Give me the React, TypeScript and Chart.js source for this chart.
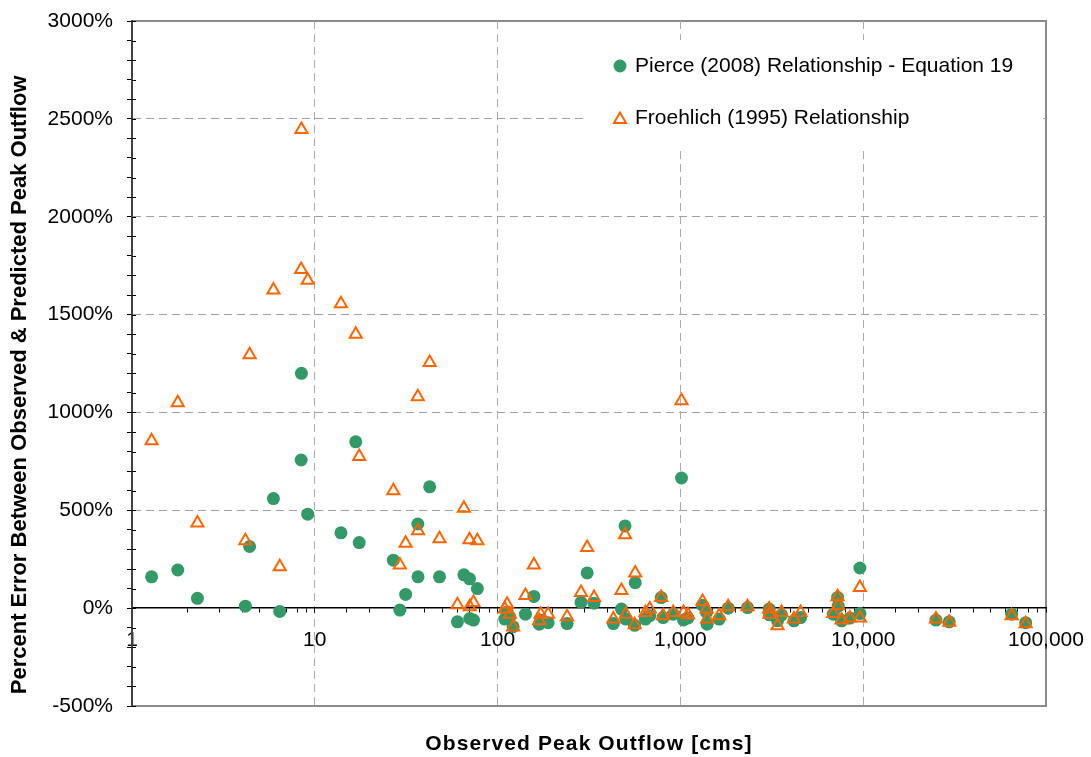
import React, { useEffect, useRef } from "react";
import { Chart, registerables } from "chart.js";

Chart.register(...registerables);

// Observed peak outflow [cms]
const obsFlow = [
  1.28, 1.78, 2.28, 4.17, 4.4, 5.94, 6.43, 8.45, 8.42, 9.15,
  13.9, 16.75, 17.5, 26.9, 29.2, 31.4, 36.6, 36.7, 42.5, 48.1,
  60.3, 65.4, 70.2, 70.4, 73.8, 77.5, 109.5, 112.7, 116.6, 121.6,
  142, 158, 169, 172, 189, 240, 286, 309, 337, 430,
  476, 498, 503, 566, 562, 644, 680, 785, 804, 913,
  1014, 1040, 1100, 1322, 1390, 1400, 1630, 1825, 2330, 3060,
  3070, 3400, 3577, 4180, 4545, 6855, 7244, 7300, 7620, 8455,
  9590, 9600, 25000, 29550, 64900, 77400,
];

// Percent error, Pierce (2008) relationship - Equation 19
const pierceErr = [
  160, 195, 50, 10, 315, 560, -17, 1200, 757, 480,
  385, 850, 335, 245, -10, 70, 430, 160, 620, 160,
  -70, 170, 150, -53, -61, 100, -56, -20, -45, -95,
  -31, 60, -82, -60, -74, -79, 29, 180, 25, -79,
  -5, 420, -56, 130, -88, -56, -39, 54, -48, -31,
  665, -60, -50, 15, -22, -82, -56, 0, 3, -5,
  -34, -65, -34, -65, -48, -31, 55, 10, -65, -51,
  205, -28, -61, -70, -31, -74,
];

// Percent error, Froehlich (1995) relationship
const froehlichErr = [
  855, 1050, 435, 344, 1295, 1625, 211, 2445, 1730, 1675,
  1555, 1400, 775, 600, 220, 332, 1080, 395, 1255, 355,
  17, 510, 350, 7, 29, 344, -5, 20, -31, -96,
  65, 220, -65, -31, -31, -44, 80, 310, 55, -56,
  90, 375, -31, 180, -85, -22, -5, 55, -39, -22,
  1060, -22, -34, 34, -5, -56, -39, 7, 7, -5,
  -31, -90, -22, -56, -22, -28, 58, 12, -60, -51,
  105, -51, -56, -72, -39, -80,
];

const seriesLabels = [
  "Pierce (2008) Relationship - Equation 19",
  "Froehlich (1995) Relationship",
];

const xTitle = "Observed Peak Outflow [cms]";
const yTitle = "Percent Error Between Observed & Predicted Peak Outflow";

const GREEN = "#339966";
const ORANGE = "#FF6600";
const FONT = "'Liberation Sans', Arial, Helvetica, sans-serif";

const isPow10 = (v: number) => {
  const l = Math.log10(v);
  return Math.abs(l - Math.round(l)) < 1e-9;
};

const framePlugin = {
  id: "frameAndLegend",
  beforeDraw(chart: any) {
    const { ctx, chartArea: a } = chart;
    ctx.save();
    ctx.strokeStyle = "#8a8a8a";
    ctx.lineWidth = 2;
    ctx.beginPath();
    ctx.moveTo(a.left, a.top);
    ctx.lineTo(a.right, a.top);
    ctx.lineTo(a.right, a.bottom);
    ctx.lineTo(a.left, a.bottom);
    ctx.stroke();
    ctx.restore();
  },
  beforeDatasetsDraw(chart: any) {
    const { ctx, chartArea: a } = chart;
    ctx.save();
    // inner half of the y-axis tick marks
    const ys = chart.scales.y;
    ctx.strokeStyle = "#000";
    ctx.lineWidth = 1;
    ctx.beginPath();
    ys.ticks.forEach((t: any) => {
      const py = Math.round(ys.getPixelForValue(t.value)) + 0.5;
      ctx.moveTo(a.left, py);
      ctx.lineTo(a.left + 4, py);
    });
    ctx.stroke();

    // legend box inside plot
    const bx = a.right - 461;
    const by = a.top + 19;
    ctx.fillStyle = "#ffffff";
    ctx.fillRect(bx, by, 453, 108);
    const mx = a.right - 426;
    const tx = a.right - 411;
    const y1 = a.top + 45;
    const y2 = a.top + 97;
    const ds = chart.data.datasets;
    ctx.fillStyle = GREEN;
    ctx.beginPath();
    ctx.arc(mx, y1, 6.5, 0, Math.PI * 2);
    ctx.fill();
    const r = 7;
    ctx.strokeStyle = ORANGE;
    ctx.lineWidth = 2;
    ctx.beginPath();
    for (let k = 0; k < 3; k++) {
      const ang = (k * 2 * Math.PI) / 3;
      const px = mx + Math.sin(ang) * r;
      const py = y2 + 1.5 - Math.cos(ang) * r;
      if (k === 0) ctx.moveTo(px, py);
      else ctx.lineTo(px, py);
    }
    ctx.closePath();
    ctx.stroke();
    ctx.fillStyle = "#000";
    ctx.font = `21px ${FONT}`;
    ctx.textBaseline = "middle";
    ctx.textAlign = "left";
    ctx.fillText(ds[0] ? ds[0].label : "", tx, y1);
    ctx.fillText(ds[1] ? ds[1].label : "", tx, y2);
    ctx.restore();
  },
  afterDatasetsDraw(chart: any) {
    // letter spacing for the bottom axis title layer (drawn after datasets)
    (chart.ctx as any).letterSpacing = "1.1px";
  },
  afterDraw(chart: any) {
    (chart.ctx as any).letterSpacing = "0px";
  },
};

export default function App() {
  const ref = useRef<HTMLCanvasElement | null>(null);

  useEffect(() => {
    if (!ref.current) return;
    Chart.defaults.font.family = FONT;
    Chart.defaults.color = "#000";
    const chart = new Chart(ref.current, {
      type: "scatter",
      data: {
        datasets: [
          {
            label: seriesLabels[0],
            data: obsFlow.map((x, i) => ({ x, y: pierceErr[i] })),
            pointStyle: "circle",
            pointRadius: 6.5,
            pointHoverRadius: 6.5,
            backgroundColor: GREEN,
            borderWidth: 0,
            order: 1,
          },
          {
            label: seriesLabels[1],
            data: obsFlow.map((x, i) => ({ x, y: froehlichErr[i] })),
            pointStyle: "triangle",
            pointRadius: 7,
            pointHoverRadius: 7,
            backgroundColor: "rgba(0,0,0,0)",
            borderColor: ORANGE,
            borderWidth: 2,
            order: 0,
          },
        ],
      },
      options: {
        responsive: false,
        animation: false,
        devicePixelRatio: 1,
        layout: { padding: { left: 0, right: 45, top: 21, bottom: 0 } },
        plugins: {
          legend: { display: false },
          tooltip: { enabled: false },
        },
        scales: {
          x: {
            type: "logarithmic",
            min: 1,
            max: 100000,
            position: { y: 0 } as any,
            grid: {
              color: (c: any) =>
                c.tick && isPow10(c.tick.value) && c.tick.value > 1 && c.tick.value < 100000
                  ? "#ababab"
                  : "rgba(0,0,0,0)",
              lineWidth: 1,
              tickColor: "#000",
              tickLength: 4,
              drawTicks: true,
            },
            border: { display: true, color: "#000", width: 1.5, dash: [8, 5] },
            ticks: {
              autoSkip: false,
              maxRotation: 0,
              padding: 15,
              font: { size: 21 },
              callback: (v: any) =>
                isPow10(Number(v)) ? Number(v).toLocaleString("en-US") : "",
            },
            afterFit: (s: any) => {
              s.paddingLeft = 0;
              s.paddingRight = 0;
              s.paddingTop = 0;
              s.paddingBottom = 0;
            },
          },
          xt: {
            type: "linear",
            axis: "x",
            position: "bottom",
            min: 0,
            max: 1,
            grid: { display: false, drawTicks: false, z: 1 } as any,
            border: { display: false },
            ticks: { display: false },
            title: {
              display: true,
              text: xTitle,
              font: { size: 21, weight: "bold" },
              padding: { top: 0, bottom: 0 },
            },
            afterFit: (s: any) => {
              s.height = 51;
              s.paddingLeft = 0;
              s.paddingRight = 0;
            },
          },
          y: {
            type: "linear",
            min: -500,
            max: 3000,
            grid: {
              color: (c: any) => {
                const v = c.tick ? c.tick.value : 0;
                return v % 500 === 0 && v > -500 && v < 3000 && v !== 0
                  ? "#a0a0a0"
                  : "rgba(0,0,0,0)";
              },
              lineWidth: 1,
              tickColor: "#000",
              tickLength: 5,
            },
            border: { display: true, color: "#404040", width: 2, dash: [8, 5] },
            ticks: {
              stepSize: 100,
              autoSkip: false,
              padding: 14,
              font: { size: 21 },
              callback: (v: any) => (Number(v) % 500 === 0 ? `${v}%` : ""),
            },
            title: {
              display: true,
              text: yTitle + "       ",
              font: { size: 22, weight: "bold" },
              padding: { top: 7, bottom: 0 },
            },
            afterFit: (s: any) => {
              s.width = 132;
              s.paddingTop = 0;
              s.paddingBottom = 0;
            },
          },
        },
      },
      plugins: [framePlugin],
    });
    return () => chart.destroy();
  }, []);

  return (
    <div style={{ position: "fixed", left: 0, top: 0, width: 1091, height: 757, background: "#fff" }}>
      <canvas ref={ref} width={1091} height={757} style={{ display: "block" }} />
    </div>
  );
}
